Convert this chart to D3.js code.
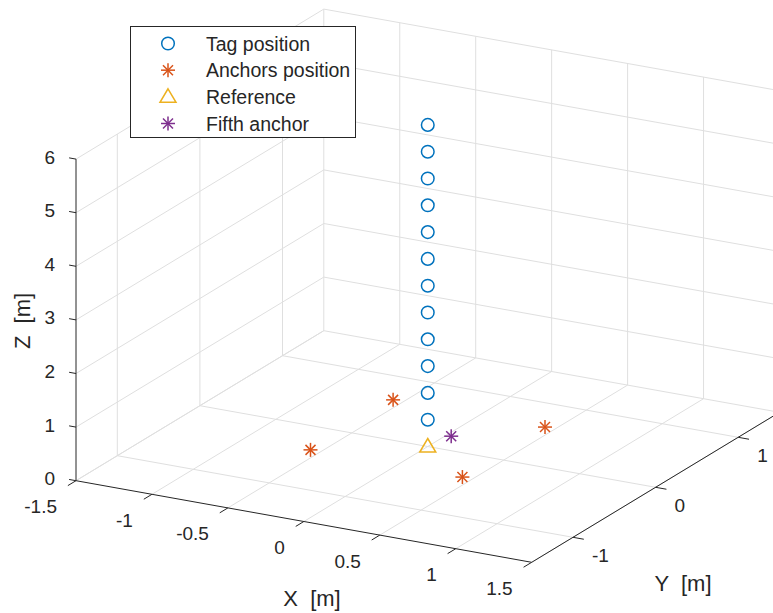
<!DOCTYPE html>
<html>
<head>
<meta charset="utf-8">
<script src="https://cdn.jsdelivr.net/npm/d3@7"></script>
<style>
  html, body { margin: 0; padding: 0; background: #fff; }
  svg { display: block; font-family: "Liberation Sans", Arial, Helvetica, sans-serif; }
</style>
</head>
<body>
<svg id="chart" width="773" height="613"></svg>
<script>
// Axis limits and ticks
const xLimits = [-1.5, 1.5];
const yLimits = [-1.5, 1.5];
const zLimits = [0, 6];
const xTicks = [-1.5, -1, -0.5, 0, 0.5, 1, 1.5];
const xTickLabels = ["-1.5", "-1", "-0.5", "0", "0.5", "1", "1.5"];
const yTicks = [-1, 0, 1];
const yTickLabels = ["-1", "0", "1"];
const zTicks = [0, 1, 2, 3, 4, 5, 6];
const zTickLabels = ["0", "1", "2", "3", "4", "5", "6"];

// Tag positions (vertical sweep above the reference point)
const tagX = [0, 0, 0, 0, 0, 0, 0, 0, 0, 0, 0, 0];
const tagY = [0, 0, 0, 0, 0, 0, 0, 0, 0, 0, 0, 0];
const tagZ = [0.5, 1, 1.5, 2, 2.5, 3, 3.5, 4, 4.5, 5, 5.5, 6];

// Four anchors
const anchorX = [-0.5, -0.5, 0.5, 0.5];
const anchorY = [-0.5, 0.5, 0.5, -0.5];
const anchorZ = [0.15, 0.15, 0.15, 0.15];

// Reference point
const refX = [0];
const refY = [0];
const refZ = [0];

// Fifth anchor
const fifthX = [0.1];
const fifthY = [0.1];
const fifthZ = [0.15];

const legendLabels = ["Tag position", "Anchors position", "Reference", "Fifth anchor"];

const colors = {
  tag: "#0072BD",
  anchor: "#D95319",
  ref: "#EDB120",
  fifth: "#7E2F8E",
  axis: "#262626",
  grid: "#dfdfdf"
};

// Orthographic projection of the plot box: each data axis is normalised to [0,1]
// and mapped onto a screen vector starting at the front-left-bottom corner.
const sx = d3.scaleLinear().domain(xLimits).range([0, 1]);
const sy = d3.scaleLinear().domain(yLimits).range([0, 1]);
const sz = d3.scaleLinear().domain(zLimits).range([0, 1]);
const origin = [76, 480.7];
const AX = [455.7, 81.6];
const AY = [247.8, -150];
const AZ = [0, -321.6];

function proj(x, y, z) {
  const u = sx(x), v = sy(y), w = sz(z);
  return [origin[0] + u * AX[0] + v * AY[0] + w * AZ[0],
          origin[1] + u * AX[1] + v * AY[1] + w * AZ[1]];
}

const svg = d3.select("#chart");
const line = d3.line();

// Grid
const grid = svg.append("g").attr("stroke", colors.grid).attr("stroke-width", 1).attr("fill", "none");
const gridSegs = [];
// back wall (y = max)
xTicks.forEach(x => gridSegs.push([proj(x, yLimits[1], zLimits[0]), proj(x, yLimits[1], zLimits[1])]));
zTicks.forEach(z => gridSegs.push([proj(xLimits[0], yLimits[1], z), proj(xLimits[1], yLimits[1], z)]));
// left wall (x = min)
yTicks.forEach(y => gridSegs.push([proj(xLimits[0], y, zLimits[0]), proj(xLimits[0], y, zLimits[1])]));
zTicks.forEach(z => gridSegs.push([proj(xLimits[0], yLimits[0], z), proj(xLimits[0], yLimits[1], z)]));
// floor (z = min)
xTicks.forEach(x => gridSegs.push([proj(x, yLimits[0], zLimits[0]), proj(x, yLimits[1], zLimits[0])]));
yTicks.forEach(y => gridSegs.push([proj(xLimits[0], y, zLimits[0]), proj(xLimits[1], y, zLimits[0])]));
grid.selectAll("path").data(gridSegs).join("path").attr("d", d => line(d));

// Axes lines
const axes = svg.append("g").attr("stroke", colors.axis).attr("stroke-width", 1).attr("fill", "none");
axes.append("path").attr("d", line([proj(xLimits[0], yLimits[0], zLimits[0]), proj(xLimits[1], yLimits[0], zLimits[0])]));
axes.append("path").attr("d", line([proj(xLimits[1], yLimits[0], zLimits[0]), proj(xLimits[1], yLimits[1], zLimits[0])]));
axes.append("path").attr("d", line([proj(xLimits[0], yLimits[0], zLimits[0]), proj(xLimits[0], yLimits[0], zLimits[1])]));

function unit(v) { const l = Math.hypot(v[0], v[1]); return [v[0] / l, v[1] / l]; }
const dirX = unit(AX), dirY = unit(AY);

// Tick marks and tick labels
const tickFont = 19;
const textG = svg.append("g").attr("fill", colors.axis).attr("font-size", tickFont);
xTicks.forEach((t, i) => {
  const p = proj(t, yLimits[0], zLimits[0]);
  axes.append("path").attr("d", line([p, [p[0] - dirY[0] * 9.5, p[1] - dirY[1] * 9.5]]));
  textG.append("text").attr("x", p[0] - 19).attr("y", p[1] + 26)
    .attr("text-anchor", "end").attr("dominant-baseline", "central").text(xTickLabels[i]);
});
yTicks.forEach((t, i) => {
  const p = proj(xLimits[1], t, zLimits[0]);
  axes.append("path").attr("d", line([p, [p[0] + dirX[0] * 11, p[1] + dirX[1] * 11]]));
  textG.append("text").attr("x", p[0] + 19).attr("y", p[1] + 18.5)
    .attr("text-anchor", "start").attr("dominant-baseline", "central").text(yTickLabels[i]);
});
zTicks.forEach((t, i) => {
  const p = proj(xLimits[0], yLimits[0], t);
  axes.append("path").attr("d", line([p, [p[0] - dirX[0] * 7, p[1] - dirX[1] * 7]]));
  textG.append("text").attr("x", p[0] - 21).attr("y", p[1] - 2)
    .attr("text-anchor", "end").attr("dominant-baseline", "central").text(zTickLabels[i]);
});

// Axis labels
const labelFont = 22;
svg.append("text").attr("x", 312).attr("y", 598).attr("text-anchor", "middle")
  .attr("dominant-baseline", "central").attr("font-size", labelFont).attr("fill", colors.axis)
  .style("white-space", "pre").text("X  [m]");
svg.append("text").attr("x", 683).attr("y", 583).attr("text-anchor", "middle")
  .attr("dominant-baseline", "central").attr("font-size", labelFont).attr("fill", colors.axis)
  .style("white-space", "pre").text("Y  [m]");
svg.append("text").attr("transform", "translate(22,321) rotate(-90)").attr("text-anchor", "middle")
  .attr("dominant-baseline", "central").attr("font-size", labelFont).attr("fill", colors.axis)
  .style("white-space", "pre").text("Z  [m]");

// Marker shapes
function drawCircle(g, p, color) {
  g.append("circle").attr("cx", p[0]).attr("cy", p[1]).attr("r", 6.3)
    .attr("fill", "none").attr("stroke", color).attr("stroke-width", 1.5);
}
function drawAsterisk(g, p, color) {
  const r = 7, d = 5;
  const segs = [
    [[p[0] - r, p[1]], [p[0] + r, p[1]]],
    [[p[0], p[1] - r], [p[0], p[1] + r]],
    [[p[0] - d, p[1] - d], [p[0] + d, p[1] + d]],
    [[p[0] - d, p[1] + d], [p[0] + d, p[1] - d]]
  ];
  segs.forEach(s => g.append("path").attr("d", line(s)).attr("stroke", color).attr("stroke-width", 1.5).attr("fill", "none"));
}
function drawTriangle(g, p, color) {
  const pts = [[p[0], p[1] - 8], [p[0] + 8, p[1] + 5.5], [p[0] - 8, p[1] + 5.5]];
  g.append("path").attr("d", line(pts) + "Z").attr("fill", "none")
    .attr("stroke", color).attr("stroke-width", 1.5).attr("stroke-linejoin", "miter");
}

const marks = svg.append("g");
tagZ.forEach((z, i) => drawCircle(marks, proj(tagX[i], tagY[i], z), colors.tag));
anchorZ.forEach((z, i) => drawAsterisk(marks, proj(anchorX[i], anchorY[i], z), colors.anchor));
refZ.forEach((z, i) => drawTriangle(marks, proj(refX[i], refY[i], z), colors.ref));
fifthZ.forEach((z, i) => drawAsterisk(marks, proj(fifthX[i], fifthY[i], z), colors.fifth));

// Legend
const legend = svg.append("g");
legend.append("rect").attr("x", 130.5).attr("y", 26.5).attr("width", 225).attr("height", 111)
  .attr("fill", "#fff").attr("stroke", colors.axis).attr("stroke-width", 1);
const rowY = d3.scalePoint().domain(legendLabels).range([43.5, 123.5]);
const drawers = [
  p => drawCircle(legend, p, colors.tag),
  p => drawAsterisk(legend, p, colors.anchor),
  p => drawTriangle(legend, p, colors.ref),
  p => drawAsterisk(legend, p, colors.fifth)
];
legendLabels.forEach((lab, i) => {
  const y = rowY(lab);
  drawers[i]([168, y]);
  legend.append("text").attr("x", 206).attr("y", y).attr("dominant-baseline", "central")
    .attr("font-size", 19.5).attr("fill", colors.axis).text(lab);
});
</script>
</body>
</html>
